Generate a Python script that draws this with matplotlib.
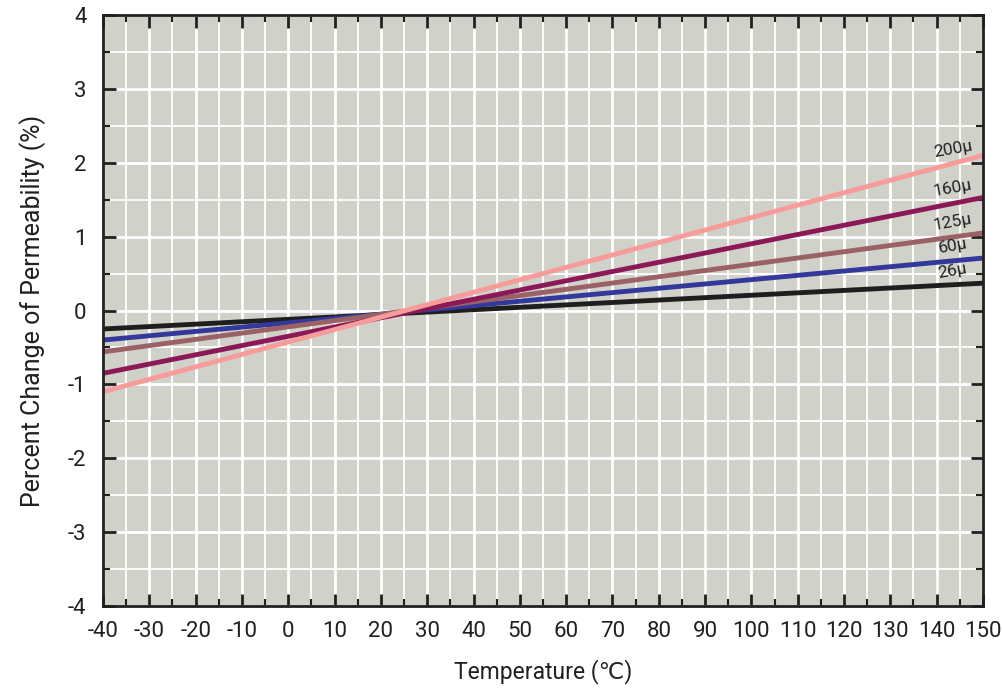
import numpy as np
import matplotlib.pyplot as plt
from matplotlib.ticker import MultipleLocator

# temperature end points and % change of permeability
temps = [-40, 150]
perm_26 = [-0.25, 0.37]
perm_60 = [-0.40, 0.71]
perm_125 = [-0.56, 1.05]
perm_160 = [-0.85, 1.53]
perm_200 = [-1.10, 2.10]

labels = ['26μ', '60μ', '125μ', '160μ', '200μ']
series = [perm_26, perm_60, perm_125, perm_160, perm_200]
colors = ['#1e1e1e', '#33399a', '#9a6266', '#8c1858', '#f79c9a']
label_y = [0.53, 0.87, 1.19, 1.65, 2.18]

xticks = list(range(-40, 151, 10))
yticks = list(range(-4, 5))


def main():
    plt.rcParams['font.family'] = ['Roboto', 'DejaVu Sans']
    plt.rcParams['axes.unicode_minus'] = False
    fig = plt.figure(figsize=(10.03, 6.96), dpi=100)
    ax = fig.add_axes([0.1027, 0.1293, 0.8773, 0.8491])
    ax.set_facecolor('#d0d1c9')

    ax.set_xlim(-40, 150)
    ax.set_ylim(-4, 4)
    ax.xaxis.set_major_locator(MultipleLocator(10))
    ax.xaxis.set_minor_locator(MultipleLocator(5))
    ax.yaxis.set_major_locator(MultipleLocator(1))
    ax.yaxis.set_minor_locator(MultipleLocator(0.5))

    ax.grid(which='major', color='white', linewidth=2.0)
    ax.grid(which='minor', color='white', linewidth=1.3)
    ax.set_axisbelow(True)

    for vals, c in zip(series, colors):
        ax.plot(temps, vals, color=c, linewidth=3.5, solid_capstyle='butt')

    for lab, ly in zip(labels, label_y):
        ax.text(143.5, ly, lab, fontsize=12.5, color='#222222', ha='center',
                va='center', rotation=10)

    ax.tick_params(which='major', direction='in', length=9, width=2,
                   color='#231f20', labelsize=16, top=True, right=True,
                   labelcolor='#231f20')
    ax.tick_params(axis='x', which='major', pad=11)
    ax.tick_params(axis='y', which='major', pad=12)
    ax.tick_params(which='minor', direction='in', length=5, width=1.5,
                   color='#231f20', top=True, right=True)
    ax.set_xticks(xticks)
    ax.set_yticks(yticks)
    for s in ax.spines.values():
        s.set_color('#231f20')
        s.set_linewidth(2)

    ax.set_xlabel('Temperature (℃)', fontsize=16.5, labelpad=12, color='#231f20')
    ax.set_ylabel('Percent Change of Permeability (%)', fontsize=18,
                  labelpad=16, color='#231f20')

    fig.savefig('out.png', dpi=100)


if __name__ == "__main__":
    main()
